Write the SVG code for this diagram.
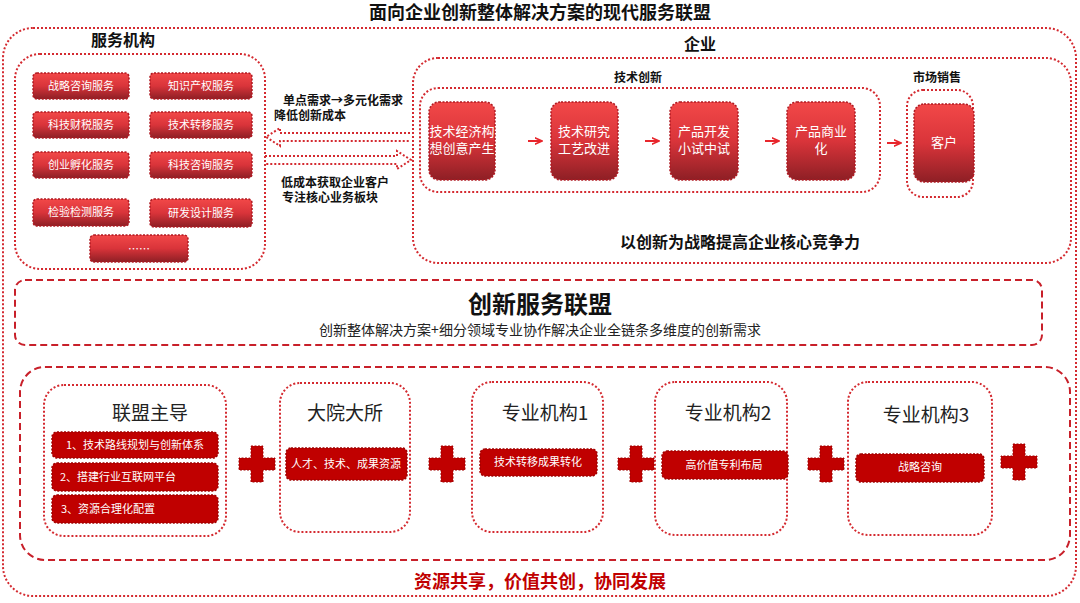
<svg xmlns="http://www.w3.org/2000/svg" width="1080" height="603" viewBox="0 0 1080 603">
<defs>
<linearGradient id="g" x1="0" y1="0" x2="0" y2="1"><stop offset="0" stop-color="#f24848"/><stop offset="0.5" stop-color="#d9343a"/><stop offset="1" stop-color="#8e1f25"/></linearGradient>
<marker id="ah" viewBox="0 0 10 10" refX="9" refY="5" markerWidth="4" markerHeight="4" orient="auto"><path d="M0,1 L9,5 L0,9" fill="none" stroke="#e8262c" stroke-width="2"/></marker>
<path id="plusShape" d="M-6,-18 h12 v12 h12 v12 h-12 v12 h-12 v-12 h-12 v-12 h12 z"/>
</defs>
<style>
text{font-family:"Noto Sans CJK SC","Liberation Sans",sans-serif;text-anchor:middle}
.dot{fill:none;stroke:#d42a30;stroke-width:2;stroke-dasharray:2 2}
.dash{fill:none;stroke:#c8202a;stroke-width:2;stroke-dasharray:7 4}
.btn{fill:url(#g);stroke:#b01a22;stroke-width:1.5;stroke-dasharray:2 1.5}
.bar{fill:#c00000;stroke:#a00000;stroke-width:1.5;stroke-dasharray:2 1.5}
.wt{fill:#fff;font-size:11px}
.wb{fill:#fff;font-size:13px}
.hd{fill:#111;font-weight:bold}
.col{fill:#222;font-size:19px}
</style>
<rect width="1080" height="603" fill="#fff"/>
<text x="540" y="19" class="hd" font-size="18">面向企业创新整体解决方案的现代服务联盟</text>
<rect class="dot" x="3" y="28" width="1073" height="568" rx="30"/>

<g id="services">
<text x="123" y="46" class="hd" font-size="16">服务机构</text>
<rect class="dot" x="15" y="54" width="250" height="215" rx="25"/>
<rect class="btn" x="33" y="73" width="96" height="26" rx="4"/><text x="81" y="90" class="wt">战略咨询服务</text>
<rect class="btn" x="150" y="73" width="102" height="26" rx="4"/><text x="201" y="90" class="wt">知识产权服务</text>
<rect class="btn" x="33" y="112" width="96" height="26" rx="4"/><text x="81" y="129" class="wt">科技财税服务</text>
<rect class="btn" x="150" y="112" width="102" height="26" rx="4"/><text x="201" y="129" class="wt">技术转移服务</text>
<rect class="btn" x="33" y="152" width="96" height="26" rx="4"/><text x="81" y="169" class="wt">创业孵化服务</text>
<rect class="btn" x="150" y="152" width="102" height="26" rx="4"/><text x="201" y="169" class="wt">科技咨询服务</text>
<rect class="btn" x="33" y="199" width="96" height="27" rx="4"/><text x="81" y="216" class="wt">检验检测服务</text>
<rect class="btn" x="150" y="199" width="102" height="28" rx="4"/><text x="201" y="217" class="wt">研发设计服务</text>
<rect class="btn" x="90" y="235" width="98" height="27" rx="4"/><text x="139" y="253" class="wt" font-size="8">……</text>
</g>

<g id="middle">
<text x="343" y="105" class="hd" font-size="12">单点需求→多元化需求</text>
<text x="310" y="120" class="hd" font-size="12">降低创新成本</text>
<text x="335" y="187" class="hd" font-size="12">低成本获取企业客户</text>
<text x="330" y="202" class="hd" font-size="12">专注核心业务板块</text>
</g>

<g id="connectors">
<path class="dot" stroke-width="1.5" d="M410,133 H280 V128 L266,137 L280,146 V141 H410"/>
<path class="dot" stroke-width="1.5" d="M265,156 H397 V151 L411,160 L397,169 V164 H265"/>
<line x1="528" y1="141" x2="542" y2="141" stroke="#e8262c" stroke-width="2" marker-end="url(#ah)"/>
<line x1="645" y1="141" x2="659" y2="141" stroke="#e8262c" stroke-width="2" marker-end="url(#ah)"/>
<line x1="765" y1="141" x2="779" y2="141" stroke="#e8262c" stroke-width="2" marker-end="url(#ah)"/>
<line x1="887" y1="143" x2="901" y2="143" stroke="#e8262c" stroke-width="2" marker-end="url(#ah)"/>
</g>

<g id="enterprise">
<text x="700" y="50" class="hd" font-size="16">企业</text>
<rect class="dot" x="413" y="58" width="658" height="205" rx="25"/>
<text x="638" y="82" class="hd" font-size="12">技术创新</text>
<rect class="dot" x="420" y="88" width="460" height="104" rx="18"/>
<text x="937" y="82" class="hd" font-size="12">市场销售</text>
<rect class="dot" x="907" y="90" width="66" height="107" rx="16"/>
<rect class="btn" x="429" y="102" width="66" height="78" rx="10"/><text x="462" y="136" class="wb" font-size="12">技术经济构</text><text x="462" y="153" class="wb" font-size="12">想创意产生</text>
<rect class="btn" x="551" y="102" width="67" height="78" rx="10"/><text x="584" y="136" class="wb">技术研究</text><text x="584" y="153" class="wb">工艺改进</text>
<rect class="btn" x="670" y="102" width="68" height="78" rx="10"/><text x="704" y="136" class="wb">产品开发</text><text x="704" y="153" class="wb">小试中试</text>
<rect class="btn" x="787" y="102" width="68" height="78" rx="10"/><text x="821" y="136" class="wb">产品商业</text><text x="821" y="153" class="wb">化</text>
<rect class="btn" x="914" y="104" width="60" height="78" rx="10"/><text x="944" y="147" class="wb">客户</text>
<text x="740" y="248" class="hd" font-size="16">以创新为战略提高企业核心竞争力</text>
</g>

<g id="alliance">
<rect class="dash" x="15" y="280" width="1027" height="65" rx="10"/>
<text x="540" y="313" class="hd" font-size="24">创新服务联盟</text>
<text x="540" y="335" fill="#222" font-size="14">创新整体解决方案+细分领域专业协作解决企业全链条多维度的创新需求</text>
</g>

<rect class="dash" x="20" y="367" width="1050" height="193" rx="25"/>

<g id="lead">
<rect class="dot" x="44" y="385" width="182" height="151" rx="20"/>
<text x="150" y="420" class="col">联盟主导</text>
<rect class="bar" x="52" y="432" width="166" height="26" rx="5"/><text x="135" y="449" class="wt">1、技术路线规划与创新体系</text>
<rect class="bar" x="52" y="463" width="166" height="28" rx="5"/><text x="118" y="481" class="wt">2、搭建行业互联网平台</text>
<rect class="bar" x="52" y="495" width="166" height="28" rx="5"/><text x="108" y="513" class="wt">3、资源合理化配置</text>
</g>
<g id="inst">
<rect class="dot" x="280" y="383" width="130" height="149" rx="20"/>
<text x="345" y="420" class="col">大院大所</text>
<rect class="bar" x="286" y="448" width="121" height="32" rx="5"/><text x="346" y="468" class="wt">人才、技术、成果资源</text>
</g>
<g id="org1">
<rect class="dot" x="472" y="382" width="131" height="150" rx="20"/>
<text x="545" y="420" class="col">专业机构1</text>
<rect class="bar" x="480" y="449" width="117" height="27" rx="5"/><text x="538" y="466" class="wt">技术转移成果转化</text>
</g>
<g id="org2">
<rect class="dot" x="655" y="382" width="132" height="153" rx="20"/>
<text x="728" y="420" class="col">专业机构2</text>
<rect class="bar" x="662" y="451" width="126" height="28" rx="5"/><text x="724" y="469" class="wt">高价值专利布局</text>
</g>
<g id="org3">
<rect class="dot" x="848" y="382" width="144" height="153" rx="20"/>
<text x="926" y="422" class="col">专业机构3</text>
<rect class="bar" x="856" y="454" width="128" height="28" rx="5"/><text x="920" y="471" class="wt">战略咨询</text>
</g>
<g id="pluses" fill="#c00000" stroke="#a00000" stroke-width="1" stroke-dasharray="2 1.5">
<use href="#plusShape" x="257" y="464"/>
<use href="#plusShape" x="447" y="464"/>
<use href="#plusShape" x="636" y="464"/>
<use href="#plusShape" x="826" y="464"/>
<use href="#plusShape" x="1019" y="462"/>
</g>
<text x="540" y="588" fill="#c00000" font-weight="bold" font-size="18">资源共享，价值共创，协同发展</text>
</svg>
